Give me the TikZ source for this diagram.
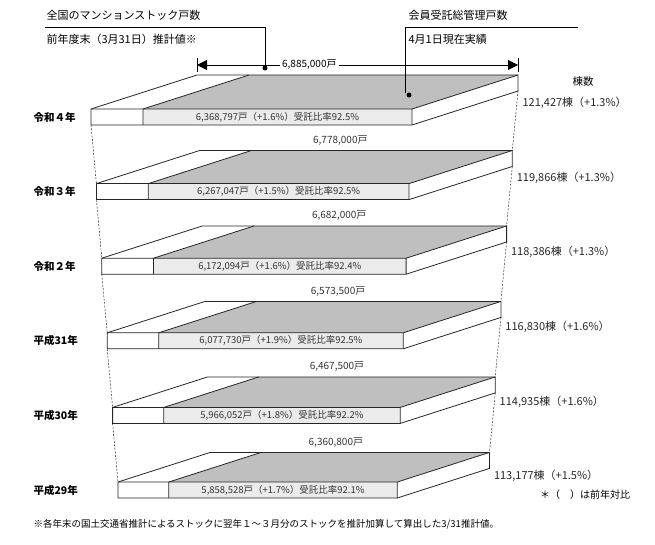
\documentclass[tikz,border=0pt]{standalone}
\usepackage{fontspec}
\setmainfont{Noto Sans CJK JP}
\usetikzlibrary{arrows.meta,calc}
\begin{document}
\begin{tikzpicture}[x=1pt,y=-1pt,
  edge/.style={draw=black!85,line width=0.8pt},
  topgray/.style={fill=black!25},
  frontgray/.style={fill=black!8},
  dashline/.style={dashed,line width=0.4pt,dash pattern=on 2pt off 1.5pt},
  yearlbl/.style={font=\bfseries\fontsize{10.5}{11}\selectfont,anchor=west},
  numtxt/.style={font=\fontsize{9.5}{10}\selectfont,text=black!80},
  cnt/.style={font=\fontsize{11}{12}\selectfont,text=black!85,anchor=west},
  ttl/.style={font=\fontsize{11}{12}\selectfont,anchor=west}]
\useasboundingbox (0,0) rectangle (655,545);
\foreach \i/\yr/\tot/\ins/\cn in {
 0/令和４年/{}/{6,368,797戸（+1.6\%）受託比率92.5\%}/{121,427棟（+1.3\%）},
 1/令和３年/{6,778,000戸}/{6,267,047戸（+1.5\%）受託比率92.5\%}/{119,866棟（+1.3\%）},
 2/令和２年/{6,682,000戸}/{6,172,094戸（+1.6\%）受託比率92.4\%}/{118,386棟（+1.3\%）},
 3/平成31年/{6,573,500戸}/{6,077,730戸（+1.9\%）受託比率92.5\%}/{116,830棟（+1.6\%）},
 4/平成30年/{6,467,500戸}/{5,966,052戸（+1.8\%）受託比率92.2\%}/{114,935棟（+1.6\%）},
 5/平成29年/{6,360,800戸}/{5,858,528戸（+1.7\%）受託比率92.1\%}/{113,177棟（+1.5\%）}}{
  \pgfmathsetmacro\t{\i/5}
  \pgfmathsetmacro\s{1-0.13*\t}
  \pgfmathsetmacro\L{91+27*\t}
  \pgfmathsetmacro\W{321*\s}
  \pgfmathsetmacro\D{106*\s}
  \pgfmathsetmacro\E{34*\s}
  \pgfmathsetmacro\c{117+74.6*\i}
  \pgfmathsetmacro\S{\L+(0.162+0.02*\t)*\W}
  \coordinate (fl\i) at (\L,\c-8);
  \coordinate (fb\i) at (\L,\c+8);
  \coordinate (fr\i) at (\L+\W,\c-8);
  \coordinate (frb\i) at (\L+\W,\c+8);
  \coordinate (bl\i) at (\L+\D,\c-8-\E);
  \coordinate (br\i) at (\L+\W+\D,\c-8-\E);
  \coordinate (brb\i) at (\L+\W+\D,\c+8-\E);
  \coordinate (sf\i) at (\S,\c-8);
  \coordinate (sb\i) at (\S+\D,\c-8-\E);
  \fill[white] (fl\i) -- (bl\i) -- (br\i) -- (brb\i) -- (frb\i) -- (fb\i) -- cycle;
  \fill[topgray] (sf\i) -- (sb\i) -- (br\i) -- (fr\i) -- cycle;
  \fill[frontgray] (sf\i) rectangle (frb\i);
  \draw[edge] (fl\i) -- (bl\i) -- (br\i) -- (brb\i) -- (frb\i) -- (fb\i) -- cycle;
  \draw[edge] (fl\i) -- (fr\i) -- (br\i) (fr\i) -- (frb\i);
  \draw[edge] (sf\i) -- (sb\i) (sf\i) -- ($(sf\i)+(0,16)$);
  \node[numtxt] (in\i) at ($(sf\i)!0.5!(frb\i)$) {\ins};
  \node[yearlbl] (yr\i) at (30,\c) {\yr};
  \node[cnt] (cn\i) at (\L+\W+\D+1,\c-14) {\cn};
  \node[numtxt,font=\fontsize{10}{11}\selectfont] (tot\i) at ($(bl\i)!0.45!(br\i)+(0,-10)$) {\tot};
}
\foreach \i/\j in {0/1,1/2,2/3,3/4,4/5}{
  \draw[dashline] (fb\i) -- (fl\j);
  \draw[dashline] (brb\i) -- (br\j);
}
% top dimension arrow
\coordinate (a1) at ($(bl0)+(0,-10)$);
\coordinate (a2) at ($(br0)+(0,-10)$);
\draw[line width=0.5pt] ($(bl0)+(0,-17)$) -- ($(bl0)+(0,-3)$);
\draw[line width=0.5pt] ($(br0)+(0,-17)$) -- ($(br0)+(0,-3)$);
\draw[line width=0.9pt,{Triangle[length=10pt,width=10pt]}-{Triangle[length=10pt,width=10pt]}] (a1) -- (a2);
\node[fill=white,inner sep=2pt,font=\fontsize{10}{11}\selectfont] (totA) at ($(a1)!0.35!(a2)$) {6,885,000戸};
% callouts
\node[ttl] (c1a) at (43,15) {全国のマンションストック戸数};
\node[ttl] (c1b) at (43,39) {前年度末（3月31日）推計値※};
\coordinate (d1) at (265,68);
\draw[line width=0.5pt] (45,27) -- (265,27) -- (d1);
\fill (d1) circle (2.5pt);
\node[ttl] (c2a) at (405,15) {会員受託総管理戸数};
\node[ttl] (c2b) at (405,39) {4月1日現在実績};
\coordinate (d2) at (409,95);
\draw[line width=0.5pt] (578,27) -- (405,27) -- (405,93);
\fill (d2) circle (2.5pt);
\node[font=\fontsize{10.5}{11}\selectfont] (hd) at (583,82) {棟数};
\node[font=\fontsize{10}{11}\selectfont] (nt) at (585,495) {＊（　）は前年対比};
\node[font=\fontsize{9.5}{10}\selectfont,anchor=west] (fn) at (30,524) {※各年末の国土交通省推計によるストックに翌年１～３月分のストックを推計加算して算出した3/31推計値。};
\end{tikzpicture}
\end{document}
